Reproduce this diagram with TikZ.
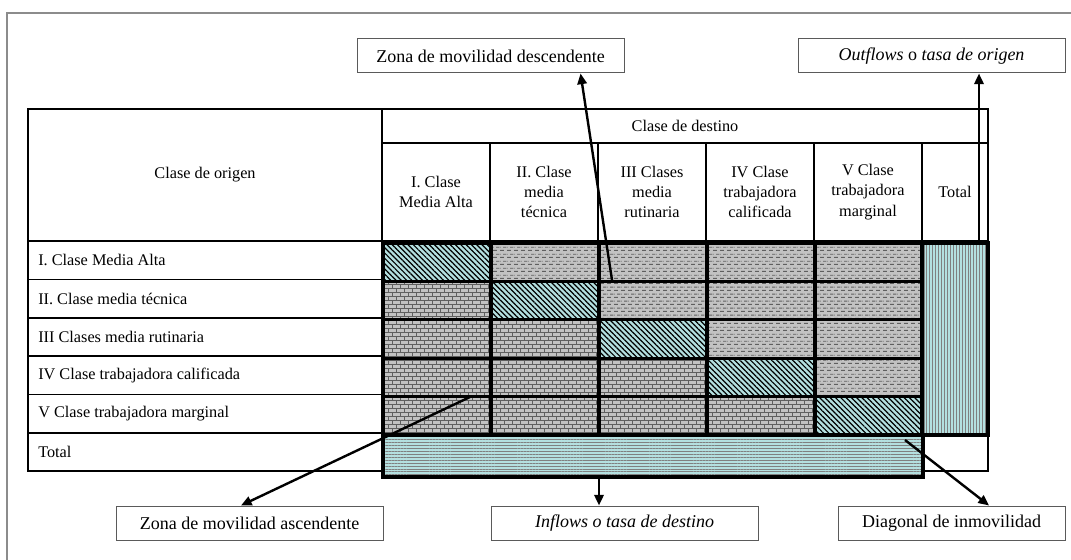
\documentclass[tikz,border=0pt]{standalone}
\usepackage{fontspec}
\setmainfont{Liberation Serif}
\usetikzlibrary{arrows.meta, patterns, patterns.meta}

\definecolor{framegray}{RGB}{140,140,140}
\definecolor{boxgray}{RGB}{90,90,90}
\definecolor{cellcyan}{RGB}{180,224,224}
\definecolor{cellgray}{RGB}{194,194,194}
\definecolor{patgray}{RGB}{95,95,95}

\pgfdeclarepatternformonly{brickwall}{\pgfqpoint{-0.5pt}{-0.5pt}}{\pgfqpoint{6.5pt}{6.5pt}}{\pgfqpoint{6pt}{6pt}}{%
  \pgfsetlinewidth{0.6pt}
  \pgfpathmoveto{\pgfqpoint{0pt}{0pt}}\pgfpathlineto{\pgfqpoint{6pt}{0pt}}
  \pgfpathmoveto{\pgfqpoint{0pt}{3pt}}\pgfpathlineto{\pgfqpoint{6pt}{3pt}}
  \pgfpathmoveto{\pgfqpoint{0pt}{0pt}}\pgfpathlineto{\pgfqpoint{0pt}{3pt}}
  \pgfpathmoveto{\pgfqpoint{3pt}{3pt}}\pgfpathlineto{\pgfqpoint{3pt}{6pt}}
  \pgfusepath{stroke}}

\pgfdeclarepatternformonly{dashrows}{\pgfqpoint{0pt}{0pt}}{\pgfqpoint{5pt}{5pt}}{\pgfqpoint{5pt}{5pt}}{%
  \pgfsetlinewidth{0.7pt}
  \pgfpathmoveto{\pgfqpoint{0pt}{1.25pt}}\pgfpathlineto{\pgfqpoint{3pt}{1.25pt}}
  \pgfpathmoveto{\pgfqpoint{2.5pt}{3.75pt}}\pgfpathlineto{\pgfqpoint{5pt}{3.75pt}}
  \pgfpathmoveto{\pgfqpoint{0pt}{3.75pt}}\pgfpathlineto{\pgfqpoint{0.5pt}{3.75pt}}
  \pgfusepath{stroke}}

\tikzset{
  grid line/.style={line width=1.1pt},
  cell/.style={draw=black, line width=2.5pt},
  zone1/.style={cell, preaction={fill=cellcyan}, pattern={Lines[angle=-45,distance=2.8pt,line width=0.9pt]}, pattern color=black},
  zone2/.style={cell, preaction={fill=cellgray}, pattern=dashrows, pattern color=patgray},
  zone3/.style={cell, preaction={fill=cellgray}, pattern=brickwall, pattern color=patgray},
  totcol/.style={cell, preaction={fill=cellcyan}, pattern={Lines[angle=90,distance=2.2pt,line width=0.75pt]}, pattern color=gray},
  totrow/.style={cell, preaction={fill=cellcyan}, pattern={Lines[angle=0,distance=2.2pt,line width=0.75pt]}, pattern color=gray},
  colhead/.style={align=center, inner sep=0pt},
  rowlbl/.style={anchor=west, inner sep=0pt},
  lbl/.style={draw=boxgray, line width=0.75pt, minimum height=25.5pt, inner sep=0pt, font=\fontsize{13.5pt}{16pt}\selectfont},
  arr/.style={line width=1.8pt, -{Triangle[length=8pt,width=7pt]}}
}

\begin{document}
\begin{tikzpicture}[x=0.75pt, y=-0.75pt, font=\fontsize{12.2pt}{15.2pt}\selectfont]
  \useasboundingbox (0,0) rectangle (1071,560);

  \draw[framegray, line width=1.9pt] (1071,13) -- (7,13) -- (7,560);

  % table
  \draw[grid line] (28,109) rectangle (988,471);
  \draw[grid line] (382,109) -- (382,471);
  \draw[grid line] (382,143) -- (988,143);
  \draw[grid line] (28,241) -- (988,241);
  \foreach \y in {279.4,317.8,356.2,394.6,433}
    \draw[grid line] (28,\y) -- (382,\y);
  \foreach \x in {490,598,706,814,922}
    \draw[grid line] (\x,143) -- (\x,241);

  \foreach \i in {1,...,5}
    \foreach \j in {1,...,5}{
      \pgfmathtruncatemacro\k{\i==\j ? 1 : (\j>\i ? 2 : 3)}
      \draw[zone\k] ({383+108*(\j-1)},{243+38.4*(\i-1)}) rectangle ({383+108*\j},{243+38.4*\i});
    }
  \draw[totcol] (922,243) rectangle (988,435);
  \draw[totrow] (383,435) rectangle (923,477);

  \node (orig) at (205,175) {Clase de origen};
  \node (dest) at (685,126) {Clase de destino};
  \node[colhead] (h1) at (436,192) {I. Clase\\Media Alta};
  \node[colhead] (h2) at (544,192) {II. Clase\\media\\técnica};
  \node[colhead] (h3) at (652,192) {III Clases\\media\\rutinaria};
  \node[colhead] (h4) at (760,192) {IV Clase\\trabajadora\\calificada};
  \node[colhead] (h5) at (868,192) {V Clase\\trabajadora\\marginal};
  \node[colhead] (h6) at (955,192) {Total};

  \node[rowlbl] (r1) at (38,260) {I. Clase Media Alta};
  \node[rowlbl] (r2) at (38,298.6) {II. Clase media técnica};
  \node[rowlbl] (r3) at (38,337) {III Clases media rutinaria};
  \node[rowlbl] (r4) at (38,375.4) {IV Clase trabajadora calificada};
  \node[rowlbl] (r5) at (38,413.8) {V Clase trabajadora marginal};
  \node[rowlbl] (r6) at (38,452.2) {Total};

  % labels
  \node[lbl, minimum width=200.25pt] (desc) at (490.5,56) {Zona de movilidad descendente};
  \node[lbl, minimum width=200.25pt] (outfl) at (931.5,56) {\textit{Outflows} o \textit{tasa de origen}};
  \node[lbl, minimum width=200.25pt] (asc) at (249.5,523) {Zona de movilidad ascendente};
  \node[lbl, minimum width=200.25pt] (infl) at (624.5,523) {\textit{Inflows o tasa de destino}};
  \node[lbl, minimum width=170.25pt] (diag) at (951.5,523) {Diagonal de inmovilidad};

  \coordinate (dstart) at (612,280);
  \coordinate (ostart) at (979,243);
  \coordinate (astart) at (470,397);
  \coordinate (istart) at (599,477);
  \coordinate (gstart) at (905,440);

  \draw[arr] (dstart) -- (desc.-11.4);
  \draw[arr] (ostart) -- (ostart |- outfl.south);
  \draw[arr] (astart) -- (asc.116.6);
  \draw[arr] (istart) -- (istart |- infl.north);
  \draw[arr] (gstart) -- (diag.25);

\end{tikzpicture}
\end{document}
